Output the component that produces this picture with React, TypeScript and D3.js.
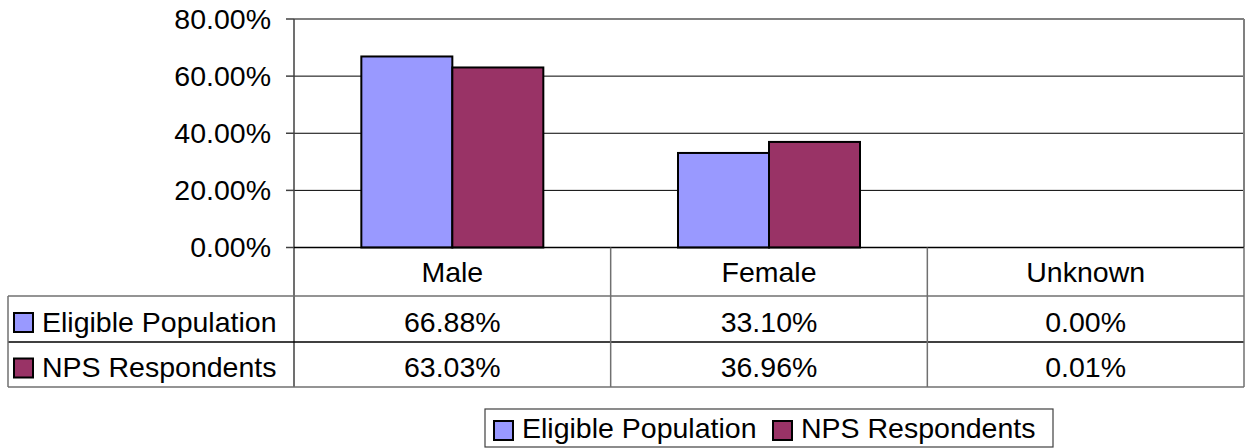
import React from "react";
import * as d3 from "d3";

const categories = ["Male", "Female", "Unknown"];
const seriesNames = ["Eligible Population", "NPS Respondents"];
const eligible = [66.88, 33.10, 0.0];
const nps = [63.03, 36.96, 0.01];
const yTicks = [0, 20, 40, 60, 80];
const colors = ["#9999FF", "#993366"];

const W = 1251;
const H = 448;
const FONT = "'Liberation Sans', Arial, sans-serif";
const FS = 28.5;

export default function App() {
  const plotL = 294;
  const plotR = 1244;
  const plotT = 19;
  const plotB = 247.5;
  const tableL = 8;
  const rowLines = [plotB, 296, 342, 387];

  const x = d3.scaleBand<string>().domain(categories).range([plotL, plotR]).paddingInner(0).paddingOuter(0);
  const xi = d3
    .scaleBand<string>()
    .domain(seriesNames)
    .range([0, x.bandwidth()])
    .paddingInner(0)
    .paddingOuter(0.74);
  const y = d3.scaleLinear().domain([0, 80]).range([plotB, plotT]);
  const series = [eligible, nps];
  const fmt = (v: number) => d3.format(".2f")(v) + "%";

  return (
    <svg
      width={W}
      height={H}
      style={{ position: "absolute", left: 0, top: 0, background: "#fff" }}
      fontFamily={FONT}
      fontSize={FS}
    >
      <rect x={0} y={0} width={W} height={H} fill="#fff" />
      {/* gridlines */}
      {yTicks.filter((t) => t > 0 && t < 80).map((t) => (
        <line key={t} x1={plotL} x2={plotR} y1={y(t)} y2={y(t)} stroke="#000" strokeWidth={1} />
      ))}
      {/* plot top & right border */}
      <line x1={plotL} x2={plotR} y1={plotT} y2={plotT} stroke="#808080" strokeWidth={2} />
      <line x1={plotR} x2={plotR} y1={plotT} y2={plotB} stroke="#808080" strokeWidth={2} />
      {/* bars */}
      {categories.map((c, ci) =>
        series.map((s, si) => {
          const v = s[ci];
          const bx = (x(c) as number) + (xi(seriesNames[si]) as number);
          if (v < 0.05) return null;
          return (
            <rect
              key={c + si}
              x={bx}
              y={y(v)}
              width={xi.bandwidth()}
              height={plotB - y(v)}
              fill={colors[si]}
              stroke="#000"
              strokeWidth={2}
            />
          );
        })
      )}
      {/* y axis */}
      <line x1={plotL} x2={plotL} y1={plotT} y2={387} stroke="#404040" strokeWidth={1.5} />
      {yTicks.map((t) => (
        <g key={t}>
          <line x1={286} x2={plotL} y1={y(t)} y2={y(t)} stroke="#404040" strokeWidth={1.5} />
          <text x={271} y={y(t) + 9.5} textAnchor="end" fill="#000">
            {fmt(t)}
          </text>
        </g>
      ))}
      {/* data table */}
      <line x1={plotL} x2={plotR} y1={plotB} y2={plotB} stroke="#000" strokeWidth={1.5} />
      {rowLines.slice(1).map((ry, i) => (
        <line key={i} x1={tableL} x2={plotR} y1={ry} y2={ry} stroke={i === 1 ? "#000" : "#707070"} strokeWidth={1.5} />
      ))}
      <line x1={tableL} x2={tableL} y1={296} y2={387} stroke="#707070" strokeWidth={1.5} />
      {categories.map((c, ci) => (
        <line
          key={"v" + c}
          x1={(x(c) as number) + x.bandwidth()}
          x2={(x(c) as number) + x.bandwidth()}
          y1={plotB}
          y2={387}
          stroke="#707070"
          strokeWidth={1.5}
        />
      ))}
      {categories.map((c) => (
        <text key={"h" + c} x={(x(c) as number) + x.bandwidth() / 2} y={281.5} textAnchor="middle" fill="#000">
          {c}
        </text>
      ))}
      {series.map((s, si) => {
        const top = rowLines[si + 1];
        const bottom = rowLines[si + 2];
        const base = bottom - 10.5;
        const mid = (top + bottom) / 2;
        return (
          <g key={"row" + si}>
            <rect x={14} y={mid + 3.5 - 9.5} width={19} height={19} fill={colors[si]} stroke="#000" strokeWidth={2} />
            <text x={42} y={base} fill="#000">
              {seriesNames[si]}
            </text>
            {categories.map((c, ci) => (
              <text key={c} x={(x(c) as number) + x.bandwidth() / 2} y={base} textAnchor="middle" fill="#000">
                {fmt(s[ci])}
              </text>
            ))}
          </g>
        );
      })}
      {/* legend */}
      <rect x={485} y={409} width={568} height={38} fill="#fff" stroke="#404040" strokeWidth={1.2} />
      {seriesNames.map((n, si) => {
        const sx = si === 0 ? 494 : 773;
        return (
          <g key={"lg" + n}>
            <rect x={sx} y={421} width={19} height={19} fill={colors[si]} stroke="#000" strokeWidth={2} />
            <text x={sx + 28} y={438} fill="#000">
              {n}
            </text>
          </g>
        );
      })}
    </svg>
  );
}
